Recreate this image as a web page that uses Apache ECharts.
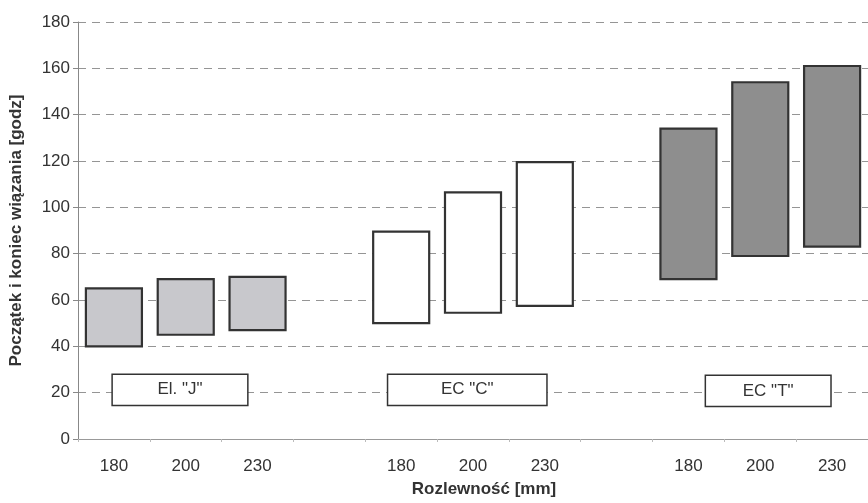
<!DOCTYPE html>
<html>
<head>
<meta charset="utf-8">
<script src="https://cdn.jsdelivr.net/npm/echarts@6/dist/echarts.min.js"></script>
<style>html,body{margin:0;padding:0;background:#fff}#c{width:868px;height:503px}</style>
</head>
<body>
<div id="c"></div>
<script>
// Category labels (blank slots separate the three groups)
const categories = ['180', '200', '230', '', '180', '200', '230', '', '180', '200', '230'];
const yTicks = [0, 20, 40, 60, 80, 100, 120, 140, 160, 180];

// Start / end of setting time [godz] per group (180, 200, 230 mm)
const elJStart = [40, 45, 47];
const elJEnd   = [65, 69, 70];
const ecCStart = [50, 54.5, 57.5];
const ecCEnd   = [89.5, 106.5, 119.5];
const ecTStart = [69, 79, 83];
const ecTEnd   = [134, 154, 161];

const groupNames = ['El. "J"', 'EC "C"', 'EC "T"'];
const groupColors = ['#c8c8cc', '#ffffff', '#8e8e8e'];

// Build range data: [categoryIndex, start, end, groupIndex]
const groups = [[elJStart, elJEnd], [ecCStart, ecCEnd], [ecTStart, ecTEnd]];
const rangeData = [];
groups.forEach((g, gi) => {
  g[0].forEach((s, i) => rangeData.push([gi * 4 + i, s, g[1][i], gi]));
});

// Label boxes layout (annotation): center on hidden value axis, y range, width
const labelBoxes = [
  [1.42, 14.5, 28, 1.89, 0],
  [5.42, 14.5, 28, 2.22, 1],
  [9.61, 14, 27.5, 1.75, 2]
];

const chart = echarts.init(document.getElementById('c'), null, {renderer: 'canvas'});
const font = 'Liberation Sans, Arial, sans-serif';

chart.setOption({
  animation: false,
  backgroundColor: '#fff',
  grid: {left: 77, right: -2, top: 22, bottom: 61, containLabel: false},
  xAxis: [{
    type: 'category',
    data: categories,
    name: 'Rozlewność [mm]',
    nameLocation: 'middle',
    nameGap: 42,
    nameTextStyle: {fontFamily: font, fontSize: 17, fontWeight: 'bold', color: '#333', padding: [0, 0, 0, 22]},
    axisLine: {lineStyle: {color: '#999', width: 1}},
    axisTick: {show: true, length: 3, lineStyle: {color: '#bbb'}},
    axisLabel: {fontFamily: font, fontSize: 17, color: '#333', margin: 19},
    splitLine: {show: false}
  }, {
    type: 'value', min: 0, max: 11, show: false
  }],
  yAxis: {
    type: 'value',
    min: 0, max: 180, interval: 20,
    name: 'Początek i koniec wiązania [godz]',
    nameLocation: 'middle',
    nameGap: 53,
    nameTextStyle: {fontFamily: font, fontSize: 17, fontWeight: 'bold', color: '#333'},
    axisLine: {show: true, lineStyle: {color: '#888', width: 1}},
    axisTick: {show: true, length: 5, lineStyle: {color: '#888'}},
    axisLabel: {fontFamily: font, fontSize: 17, color: '#333', margin: 8},
    splitLine: {show: true, lineStyle: {color: '#959595', type: [8, 6], width: 1}}
  },
  series: [{
    type: 'custom',
    xAxisIndex: 0,
    data: rangeData,
    encode: {x: 0, y: [1, 2]},
    renderItem: function (params, api) {
      const idx = api.value(0);
      const p0 = api.coord([idx, api.value(1)]);
      const p1 = api.coord([idx, api.value(2)]);
      const w = api.size([1, 0])[0] * 0.78;
      const gi = api.value(3);
      return {
        type: 'rect',
        shape: {x: p0[0] - w / 2, y: p1[1], width: w, height: p0[1] - p1[1]},
        style: {fill: groupColors[gi], stroke: '#333', lineWidth: 2.2}
      };
    }
  }, {
    type: 'custom',
    xAxisIndex: 1,
    data: labelBoxes,
    encode: {x: 0, y: [1, 2]},
    renderItem: function (params, api) {
      const cx = api.value(0);
      const pa = api.coord([cx - api.value(3) / 2, api.value(2)]);
      const pb = api.coord([cx + api.value(3) / 2, api.value(1)]);
      return {
        type: 'group',
        children: [{
          type: 'rect',
          shape: {x: pa[0], y: pa[1], width: pb[0] - pa[0], height: pb[1] - pa[1]},
          style: {fill: '#fff', stroke: '#333', lineWidth: 1.5}
        }, {
          type: 'text',
          style: {
            text: groupNames[api.value(4)],
            x: (pa[0] + pb[0]) / 2, y: (pa[1] + pb[1]) / 2,
            align: 'center', verticalAlign: 'middle',
            font: '17px ' + font, fill: '#333'
          }
        }]
      };
    }
  }]
});
</script>
</body>
</html>
